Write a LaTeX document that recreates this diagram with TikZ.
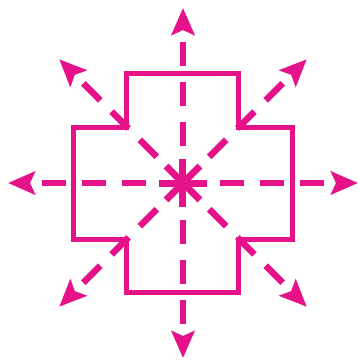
\documentclass[tikz,border=0pt]{standalone}
\usetikzlibrary{arrows.meta}
\definecolor{mag}{HTML}{E5128A}
\begin{document}
\begin{tikzpicture}[x=1pt,y=-1pt,
  outline/.style={draw=mag,line width=5pt,miter limit=10},
  ray/.style={draw=mag,line width=6.5pt,dash pattern=on 24pt off 16pt,-{Stealth[length=27pt,width=23pt,inset=5pt]}},
  spoke/.style={draw=mag,line width=7pt}]
\useasboundingbox (0,0) rectangle (358,360);
\begin{scope}[shift={(183,183)}]
\draw[outline] (-56,-109.5) -- (56,-109.5) -- (56,-56) -- (109.5,-56) -- (109.5,56) -- (56,56) -- (56,109.5) -- (-56,109.5) -- (-56,56) -- (-109.5,56) -- (-109.5,-56) -- (-56,-56) -- cycle;
\foreach \a in {0,45,...,315} {
  \draw[ray] (\a:37) -- (\a:175);
}
\foreach \a in {0,45,90,135} {
  \draw[spoke] (\a:24) -- (\a+180:24);
}
\end{scope}
\end{tikzpicture}
\end{document}
